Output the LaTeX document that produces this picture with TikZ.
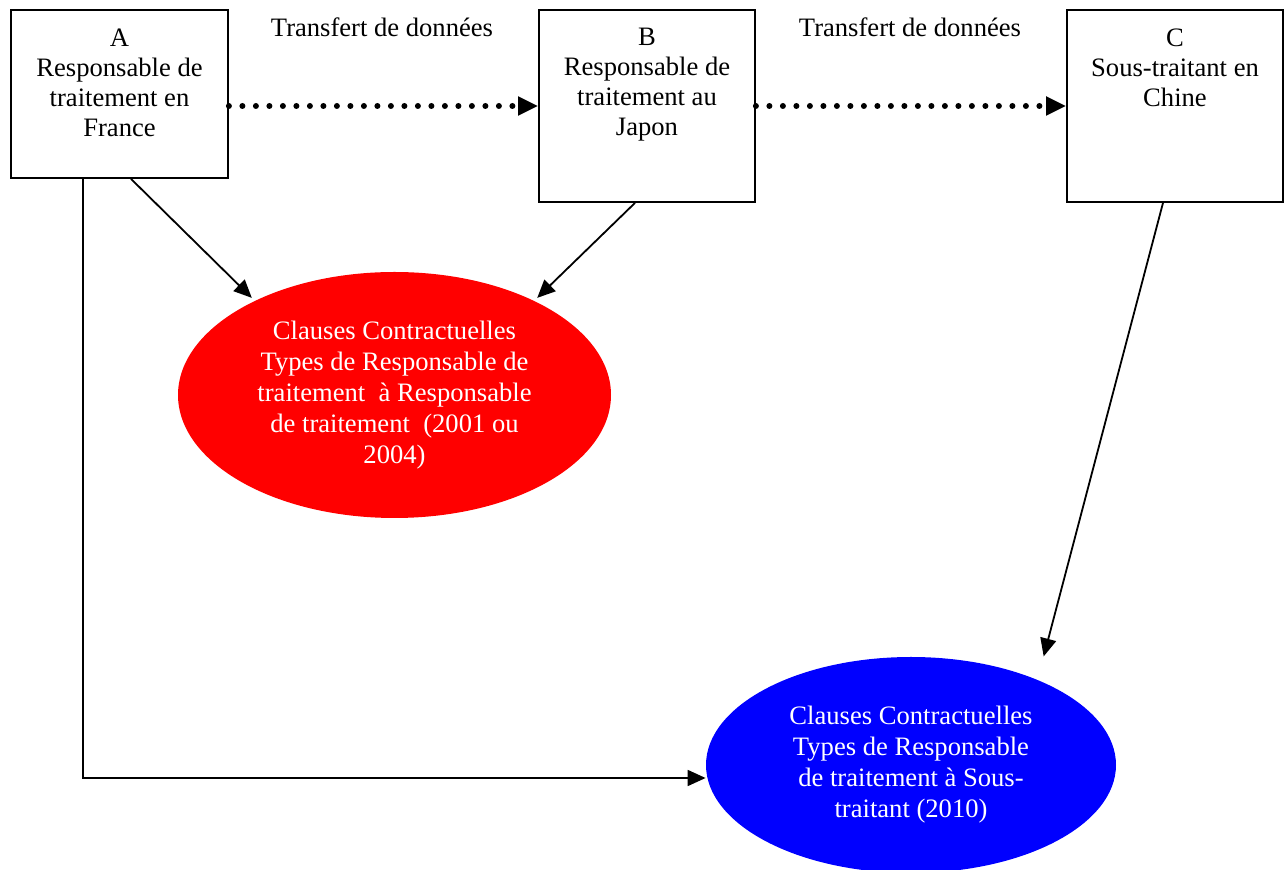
\documentclass[tikz,border=0pt]{standalone}
\usepackage{fontspec}
\setmainfont{Liberation Serif}
\usetikzlibrary{arrows.meta,shapes.geometric}
\begin{document}
\begin{tikzpicture}[x=0.5pt, y=-0.5pt,
	font=\fontsize{13.3}{15}\selectfont,
	boite/.style={draw, line width=0.9pt, inner sep=0pt},
	texte/.style={align=center, inner sep=0pt, anchor=north},
	clause/.style={ellipse, text=white, align=center, inner sep=0pt,
		font=\fontsize{13.3}{15.5}\selectfont},
	fleche/.style={-{Triangle[length=9pt,width=8pt]}, line width=0.9pt},
	pointille/.style={line width=3pt, line cap=round, dash pattern=on 0pt off 6.75pt,
		-{Triangle[length=10pt,width=9pt]}}]
	\useasboundingbox (0,0) rectangle (1287,870);

	%boites
	\node[boite, minimum width=108.5pt, minimum height=84pt] (A) at (119.5,94) {};
	\node[boite, minimum width=108pt, minimum height=96pt] (B) at (647,106) {};
	\node[boite, minimum width=108pt, minimum height=96pt] (C) at (1175,106) {};
	\node[texte] (tA) at ([yshift=-9.5pt]A.north) {A\\Responsable de\\traitement en\\France};
	\node[texte] (tB) at ([yshift=-9.5pt]B.north) {B\\Responsable de\\traitement au\\Japon};
	\node[texte] (tC) at ([yshift=-9.5pt]C.north) {C\\Sous-traitant en\\Chine};

	%transferts
	\draw[pointille] ([yshift=-6pt]A.east) -- (B.west);
	\draw[pointille] (B.east) -- (C.west);
	\node[anchor=base] (tr1) at (382,37) {Transfert de données};
	\node[anchor=base] (tr2) at (910,37) {Transfert de données};

	%clauses
	\node[clause, fill=red, minimum width=216.5pt, minimum height=123pt] (R) at (394.5,395)
		{Clauses Contractuelles\\Types de Responsable de\\traitement \ à Responsable\\de traitement \ (2001 ou\\2004)};
	\node[clause, fill=blue, minimum width=205pt, minimum height=108pt] (V) at (911,765)
		{Clauses Contractuelles\\Types de Responsable\\de traitement à Sous-\\traitant (2010)};

	%fleches
	\draw[fleche, shorten >=2pt] ([xshift=5.75pt]A.south) -- (R.146);
	\draw[fleche, shorten >=2pt] ([xshift=-6pt]B.south) -- (R.34);
	\draw[fleche, shorten >=12pt] ([xshift=-6pt]C.south) -- (V.34);
	\draw[fleche] ([xshift=-18.25pt]A.south) |- ([yshift=-6.5pt]V.west);
\end{tikzpicture}
\end{document}
